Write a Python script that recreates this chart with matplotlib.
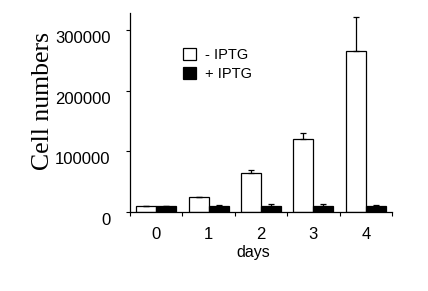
import matplotlib.pyplot as plt
import matplotlib.transforms as mtransforms
import numpy as np

days = [0, 1, 2, 3, 4]
minus_iptg = [10000, 24000, 65000, 121000, 266000]
minus_err = [0, 1500, 4000, 9000, 56000]
plus_iptg = [10000, 10000, 10000, 10000, 10000]
plus_err = [0, 1500, 3000, 3000, 1500]

fig = plt.figure(figsize=(4.28, 2.91), dpi=100)
ax = fig.add_axes([130/428, 1-212/291, 262/428, 199/291])

x = np.arange(len(days))
w = 0.38
ekw = dict(elinewidth=0.9, capsize=2.5, capthick=0.9, ecolor='black')
ax.bar(x - w/2, minus_iptg, w, color='white', edgecolor='black', linewidth=0.9,
       yerr=[np.zeros(len(days)), minus_err], error_kw=ekw, label='- IPTG')
ax.bar(x + w/2, plus_iptg, w, color='black', edgecolor='black', linewidth=0.9,
       yerr=[np.zeros(len(days)), plus_err], error_kw=ekw, label='+ IPTG')

ax.set_xlim(-0.5, 4.5)
ax.set_ylim(0, 328000)
ax.set_yticks([0, 100000, 200000, 300000])
ax.set_yticklabels(['0', '100000', '200000', '300000'], fontsize=12, family='Liberation Sans')
ax.set_xticks(x)
ax.set_xticklabels([str(d) for d in days], fontsize=12, family='Liberation Sans')
ax.tick_params(axis='x', which='major', length=0, pad=11)
ax.set_xticks(np.arange(-0.5, 5, 1), minor=True)
ax.tick_params(axis='x', which='minor', length=3, width=0.8, direction='out')
ax.tick_params(axis='y', length=3, width=0.8, pad=11)

# y tick labels sit a little below their ticks in the original
shift = mtransforms.ScaledTranslation(0, -7/100, fig.dpi_scale_trans)
for lbl in ax.get_yticklabels():
    lbl.set_transform(lbl.get_transform() + shift)

for s in ['top', 'right']:
    ax.spines[s].set_visible(False)
for s in ['left', 'bottom']:
    ax.spines[s].set_linewidth(0.9)

ax.set_xlabel('days', fontsize=11.5, family='Liberation Sans')
ax.xaxis.set_label_coords((253-130)/262, (212-260)/199)
ax.xaxis.label.set_va('bottom')
ax.set_ylabel('Cell numbers', fontsize=18.5, family='Liberation Serif')
ax.yaxis.set_label_coords((54-130)/262, (212-101)/199)

ax.legend(loc='upper left', bbox_to_anchor=(0.175, 0.86), frameon=False, borderpad=0,
          handlelength=0.9, handleheight=0.9, handletextpad=0.6, labelspacing=0.35,
          prop={'family': 'Liberation Sans', 'size': 10.5})

fig.savefig('out.png', dpi=100)
